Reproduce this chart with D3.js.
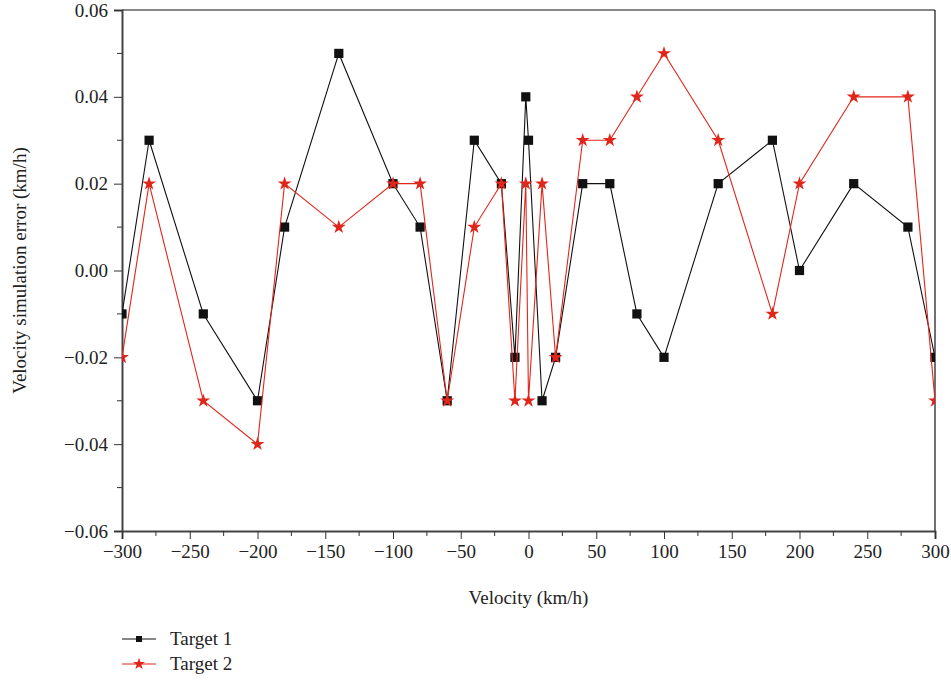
<!DOCTYPE html>
<html>
<head>
<meta charset="utf-8">
<script src="https://cdn.jsdelivr.net/npm/d3@7"></script>
<style>
  body { margin: 0; background: #fff; }
  svg text { font-family: 'Liberation Serif', 'Times New Roman', Times, serif !important; fill: #222; }
</style>
</head>
<body>
<div id="chart"></div>
<script>
// velocity values (km/h)
const velocities = [-300, -280, -240, -200, -180, -140, -100, -80, -60, -40, -20, -10, -2, 0, 10, 20, 40, 60, 80, 100, 140, 180, 200, 240, 280, 300];
// simulation error per target
const target1 = [-0.01, 0.03, -0.01, -0.03, 0.01, 0.05, 0.02, 0.01, -0.03, 0.03, 0.02, -0.02, 0.04, 0.03, -0.03, -0.02, 0.02, 0.02, -0.01, -0.02, 0.02, 0.03, 0.00, 0.02, 0.01, -0.02];
const target2 = [-0.02, 0.02, -0.03, -0.04, 0.02, 0.01, 0.02, 0.02, -0.03, 0.01, 0.02, -0.03, 0.02, -0.03, 0.02, -0.02, 0.03, 0.03, 0.04, 0.05, 0.03, -0.01, 0.02, 0.04, 0.04, -0.03];
const seriesNames = ['Target 1', 'Target 2'];
const xTicks = [-300, -250, -200, -150, -100, -50, 0, 50, 100, 150, 200, 250, 300];
const yTicks = [-0.06, -0.04, -0.02, 0.00, 0.02, 0.04, 0.06];

const width = 951, height = 681;
const margin = { top: 10, right: 16, bottom: 150, left: 122 };
const innerW = width - margin.left - margin.right;
const innerH = height - margin.top - margin.bottom;
const FONT = "'Liberation Serif', 'Times New Roman', serif";

const svg = d3.select('#chart').append('svg')
  .attr('width', width)
  .attr('height', height);

const g = svg.append('g')
  .attr('transform', `translate(${margin.left},${margin.top})`);

const x = d3.scaleLinear().domain([-300, 300]).range([0, innerW]);
const y = d3.scaleLinear().domain([-0.06, 0.06]).range([innerH, 0]);

// frame top/right
g.append('line').attr('x1', 0).attr('x2', innerW).attr('y1', 0).attr('y2', 0)
  .attr('stroke', '#111').attr('stroke-width', 1);
g.append('line').attr('x1', innerW).attr('x2', innerW).attr('y1', 0).attr('y2', innerH)
  .attr('stroke', '#111').attr('stroke-width', 1.2);

// minor ticks
const xMinor = d3.range(-275, 300, 50);
const yMinor = d3.range(-0.05, 0.06, 0.02);

const xAxis = g.append('g')
  .attr('transform', `translate(0,${innerH})`)
  .call(d3.axisBottom(x).tickValues(xTicks).tickSize(8).tickPadding(6)
    .tickFormat(d => d < 0 ? '\u2212' + Math.abs(d) : d));
xAxis.append('g').selectAll('line').data(xMinor).join('line')
  .attr('x1', d => x(d)).attr('x2', d => x(d)).attr('y1', 0).attr('y2', 5)
  .attr('stroke', '#333');

const yAxis = g.append('g')
  .call(d3.axisLeft(y).tickValues(yTicks).tickSize(8).tickPadding(6)
    .tickFormat(d => (d < 0 ? '\u2212' : '') + Math.abs(d).toFixed(2)));
yAxis.append('g').selectAll('line').data(yMinor).join('line')
  .attr('x1', 0).attr('x2', -5).attr('y1', d => y(d)).attr('y2', d => y(d))
  .attr('stroke', '#333');

[xAxis, yAxis].forEach(ax => {
  ax.attr('font-family', FONT).attr('font-size', 19);
  ax.select('.domain').attr('stroke', '#444').attr('stroke-width', 2);
  ax.selectAll('.tick line').attr('stroke', '#333');
  ax.selectAll('.tick text').style('font-family', FONT).style('font-size', '19px').attr('fill', '#222');
});

// axis titles
svg.append('text')
  .attr('x', margin.left + innerW / 2 - 0).attr('y', 604)
  .attr('text-anchor', 'middle').style('font-family', FONT).style('font-size', '19px')
  .text('Velocity (km/h)');
svg.append('text')
  .attr('transform', `translate(26,${margin.top + innerH / 2}) rotate(-90)`)
  .attr('text-anchor', 'middle').style('font-family', FONT).style('font-size', '19px')
  .text('Velocity simulation error (km/h)');

// clip
svg.append('defs').append('clipPath').attr('id', 'plot-clip')
  .append('rect').attr('x', 0).attr('y', -2).attr('width', innerW).attr('height', innerH + 4);

const plot = g.append('g').attr('clip-path', 'url(#plot-clip)');

const series = [
  { name: seriesNames[0], values: target1, color: '#111111', marker: 'square' },
  { name: seriesNames[1], values: target2, color: '#e0261b', marker: 'star' }
];

const line = d3.line()
  .x((d, i) => x(velocities[i]))
  .y(d => y(d));

const squareSym = d3.symbol().type(d3.symbolSquare).size(85);
const starSym = d3.symbol().type(d3.symbolStar).size(60);

series.forEach(s => {
  plot.append('path')
    .datum(s.values)
    .attr('fill', 'none')
    .attr('stroke', s.color)
    .attr('stroke-width', 1.1)
    .attr('d', line);
  plot.selectAll(null).data(s.values).join('path')
    .attr('transform', (d, i) => `translate(${x(velocities[i])},${y(d)})`)
    .attr('d', s.marker === 'square' ? squareSym : starSym)
    .attr('fill', s.color);
});

// legend
const legend = svg.append('g');
series.forEach((s, i) => {
  const ly = 639 + i * 25;
  legend.append('line').attr('x1', 122).attr('x2', 156).attr('y1', ly).attr('y2', ly)
    .attr('stroke', s.color).attr('stroke-width', 1.2);
  legend.append('path')
    .attr('transform', `translate(139,${ly})`)
    .attr('d', s.marker === 'square' ? d3.symbol().type(d3.symbolSquare).size(36) : d3.symbol().type(d3.symbolStar).size(45))
    .attr('fill', s.color);
  legend.append('text').attr('x', 170).attr('y', ly + 6)
    .style('font-family', FONT).style('font-size', '19px').text(s.name);
});
</script>
</body>
</html>
